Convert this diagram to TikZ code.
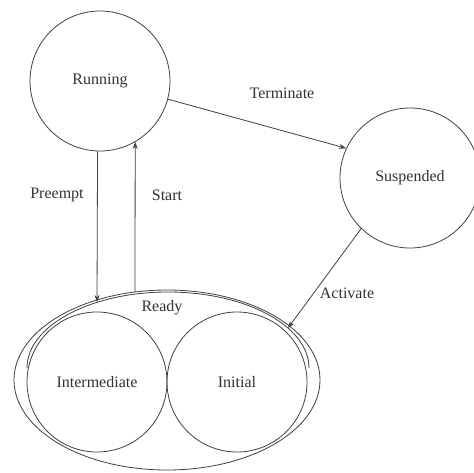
\documentclass[tikz,border=0pt]{standalone}
\usepackage{fontspec}
\setmainfont{Liberation Serif}
\usetikzlibrary{arrows.meta,shapes.geometric}
\definecolor{linec}{gray}{0.25}
\definecolor{textc}{gray}{0.2}
\begin{document}
\begin{tikzpicture}[x=1pt,y=-1pt,
  state/.style={circle,draw=linec,line width=0.8pt,minimum size=140pt,inner sep=0pt,
    font=\fontsize{16}{18}\selectfont,text=textc},
  lbl/.style={font=\fontsize{16}{18}\selectfont,text=textc,inner sep=0pt},
  conn/.style={draw=linec,line width=0.8pt,-{Stealth[length=7pt,width=5pt]}},
  outline/.style={draw=linec,line width=0.8pt}]
\fill[white] (0,0) rectangle (474,472);
\useasboundingbox (0,0) rectangle (474,472);
% outer Ready ellipse and inner border
\node[ellipse,outline,minimum width=306pt,minimum height=180pt,inner sep=0pt] (ready) at (167,380) {};
\draw[outline] (27,368) arc[start angle=180,end angle=0,x radius=141pt,y radius=76pt];
% states
\node[state] (run) at (100,81) {Running};
\node[state] (susp) at (410,178) {Suspended};
\node[state] (inter) at (97,382) {Intermediate};
\node[state] (init) at (237,382) {Initial};
% connector ends
\coordinate (pe) at (97,302);
\coordinate (sf) at (135,292);
\coordinate (ae) at (288,328);
% connectors
\draw[conn] (run.-92.5) -- (pe);
\draw[conn] (sf) -- (run.-60);
\draw[conn] (run.-15) -- (susp.155);
\draw[conn] (susp.226) -- (ae);
% labels
\node[lbl] (lterm) at (282,93) {Terminate};
\node[lbl] (lpre) at (57,195) {Preempt};
\node[lbl] (lstart) at (167,195) {Start};
\node[lbl] (lact) at (347,293) {Activate};
\node[lbl] (lready) at (162,308) {Ready};
\end{tikzpicture}
\end{document}
